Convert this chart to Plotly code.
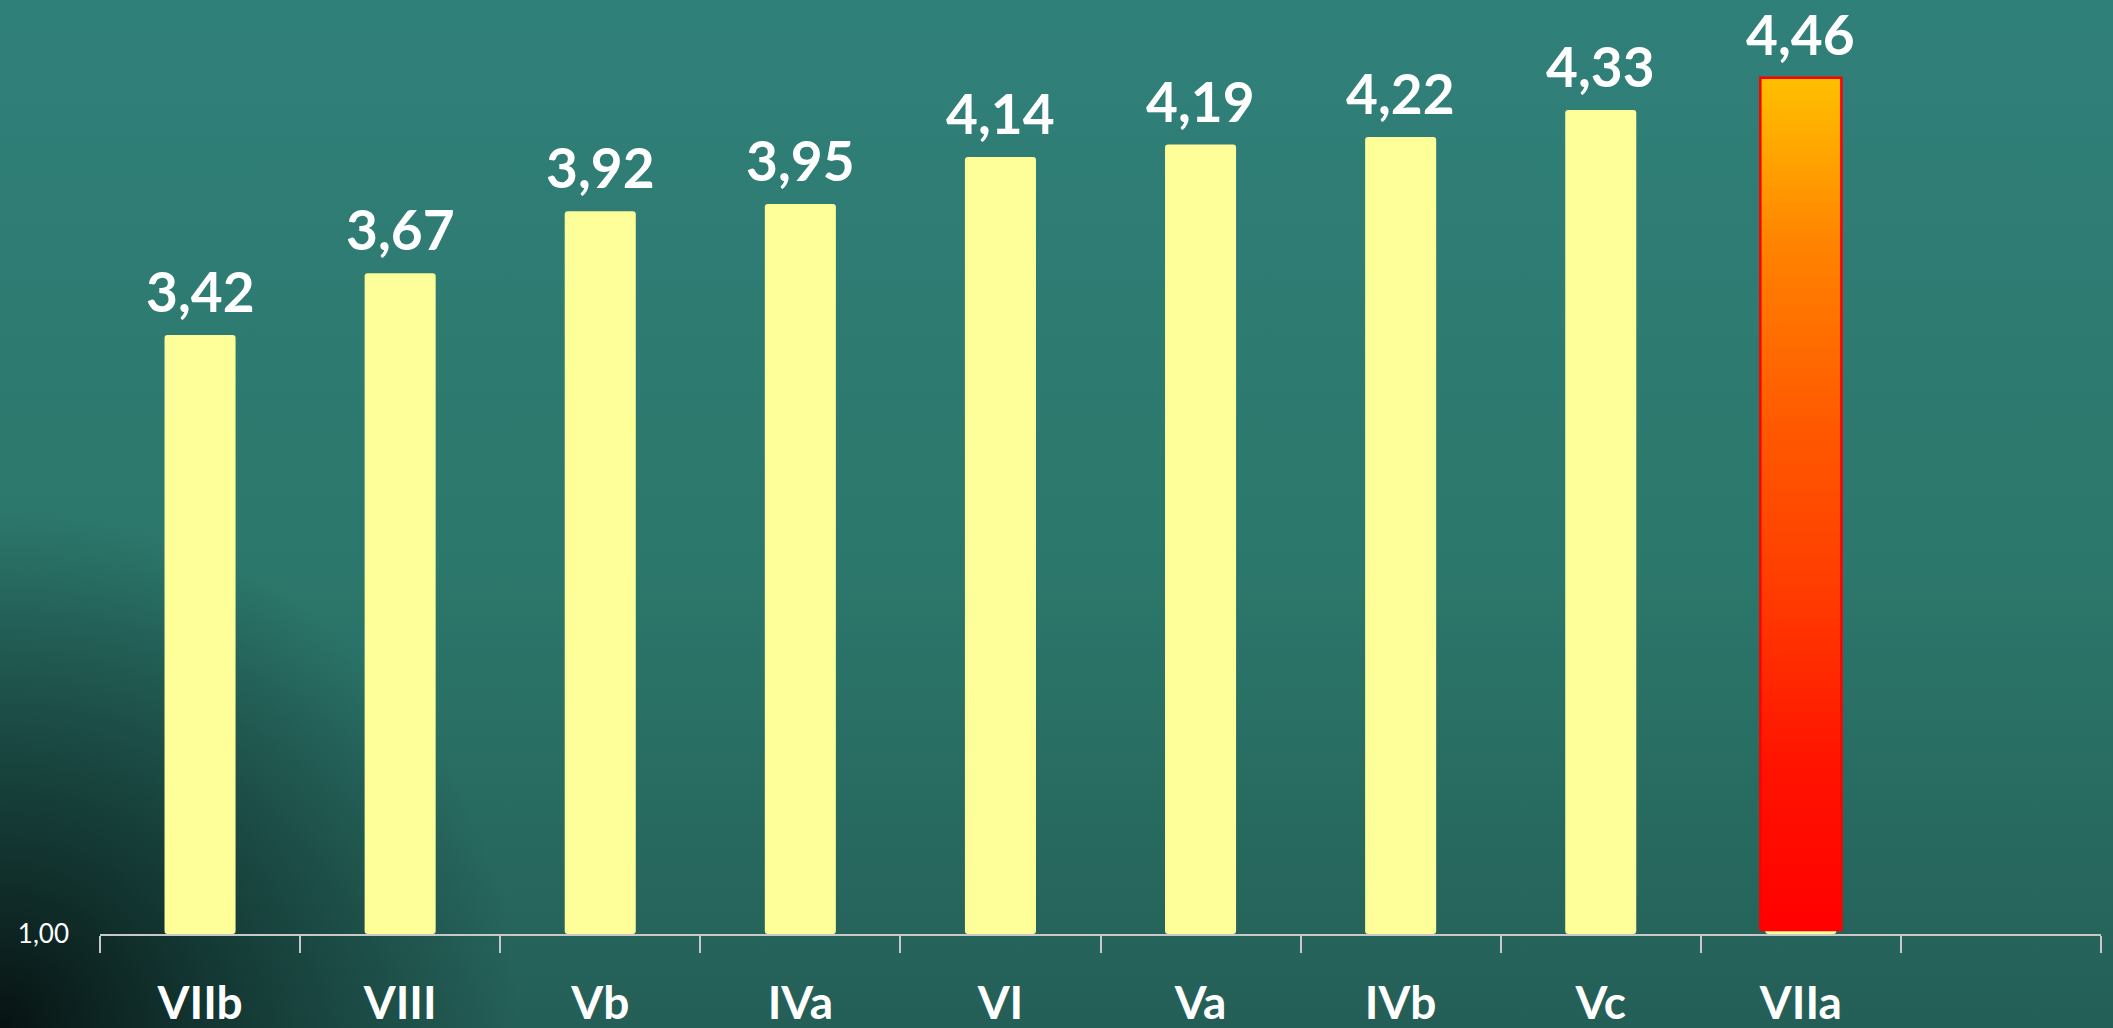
import base64
import plotly.graph_objects as go

# ---- data ----
categories = ["VIIb", "VIII", "Vb", "IVa", "VI", "Va", "IVb", "Vc", "VIIa"]
values = [3.42, 3.67, 3.92, 3.95, 4.14, 4.19, 4.22, 4.33, 4.46]
highlight = "VIIa"
extra_slot = [" "]          # empty trailing category slot on the axis
y_base = 1.00
y_ticks = [1.00]
y_tick_text = ["1,00"]

# ---- style ----
FONT = "Lato"
BAR_COLOR = "#FFFF99"
AXIS_COLOR = "#C8C8C8"
BAR_WIDTH = 0.355
HL_HALF = 0.2025
HL_INSET = 0.016
LABEL_SHIFT = 9
grad_scale = [[0.0, "#FF0000"], [0.2, "#FF1400"], [0.4, "#FF3C00"],
              [0.6, "#FF5A00"], [0.8, "#FF8200"], [1.0, "#FFC000"]]

fig = go.Figure()

fig.add_trace(go.Bar(
    x=categories, y=[v - y_base for v in values], base=y_base,
    width=BAR_WIDTH,
    marker=dict(color=BAR_COLOR, line=dict(width=0), cornerradius=3),
    hoverinfo="skip", showlegend=False,
))

# highlighted bar with vertical gradient, drawn on a numeric overlay axis
idx = categories.index(highlight)
hv = values[idx]
xs = [idx - HL_HALF, idx + HL_HALF, idx + HL_HALF, idx - HL_HALF, idx - HL_HALF]
ys = [y_base + HL_INSET, y_base + HL_INSET, hv, hv, y_base + HL_INSET]
fig.add_trace(go.Scatter(
    x=xs, y=ys, xaxis="x2", mode="lines", fill="toself",
    line=dict(color="#FF0000", width=2.5),
    fillgradient=dict(type="vertical", colorscale=grad_scale,
                      start=y_base, stop=hv),
    hoverinfo="skip", showlegend=False,
))

# value labels
for c, v in zip(categories, values):
    fig.add_annotation(
        x=c, y=v, xref="x", yref="y", text=f"{v:.2f}".replace(".", ","),
        showarrow=False, yanchor="bottom", yshift=LABEL_SHIFT,
        font=dict(family=FONT, size=55, color="white", weight="bold"),
    )

n_slots = len(categories) + len(extra_slot)

# chalkboard-like background (smooth gradients only)
svg = (
    "<svg xmlns='http://www.w3.org/2000/svg' width='2113' height='1028'>"
    "<defs>"
    "<linearGradient id='g' x1='0' y1='0' x2='0' y2='1'>"
    "<stop offset='0' stop-color='#30807A'/>"
    "<stop offset='0.55' stop-color='#2C776B'/>"
    "<stop offset='1' stop-color='#245F57'/>"
    "</linearGradient>"
    "<radialGradient id='r' gradientUnits='userSpaceOnUse' cx='0' cy='1028' r='520'>"
    "<stop offset='0' stop-color='#050E0E' stop-opacity='0.95'/>"
    "<stop offset='0.45' stop-color='#0A201E' stop-opacity='0.6'/>"
    "<stop offset='1' stop-color='#0A201E' stop-opacity='0'/>"
    "</radialGradient>"
    "</defs>"
    "<rect width='2113' height='1028' fill='url(#g)'/>"
    "<rect width='2113' height='1028' fill='url(#r)'/>"
    "</svg>"
)
uri = "data:image/svg+xml;base64," + base64.b64encode(svg.encode()).decode()

fig.update_layout(
    width=2113, height=1028,
    margin=dict(l=100, r=12, t=0, b=94),
    paper_bgcolor="#2B7568", plot_bgcolor="rgba(0,0,0,0)",
    images=[dict(source=uri, xref="paper", yref="paper",
                 x=-100 / 2001, y=1.0, sizex=2113 / 2001, sizey=1028 / 934,
                 sizing="stretch", xanchor="left", yanchor="top",
                 layer="below")],
    separators=", ",
    xaxis=dict(
        type="category", categoryorder="array",
        categoryarray=categories + extra_slot,
        range=[-0.5, n_slots - 0.5],
        tickson="boundaries", ticks="outside", ticklen=17, tickwidth=2,
        tickcolor=AXIS_COLOR, showline=True, linecolor=AXIS_COLOR, linewidth=2,
        showgrid=False, zeroline=False,
        tickfont=dict(family=FONT, size=46, color="white", weight="bold"),
        ticklabelstandoff=28,
    ),
    xaxis2=dict(overlaying="x", range=[-0.5, n_slots - 0.5], visible=False),
    yaxis=dict(
        range=[y_base, y_base + 3.774], tickvals=y_ticks, ticktext=y_tick_text,
        showgrid=False, zeroline=False, showline=False, ticks="",
        tickfont=dict(family=FONT, size=26, color="white"),
        ticklabelstandoff=30,
    ),
)

fig.write_html(
    "out.html",
    config={"displayModeBar": False},
    post_script="document.body.style.margin='0';document.body.style.overflow='hidden';",
)
